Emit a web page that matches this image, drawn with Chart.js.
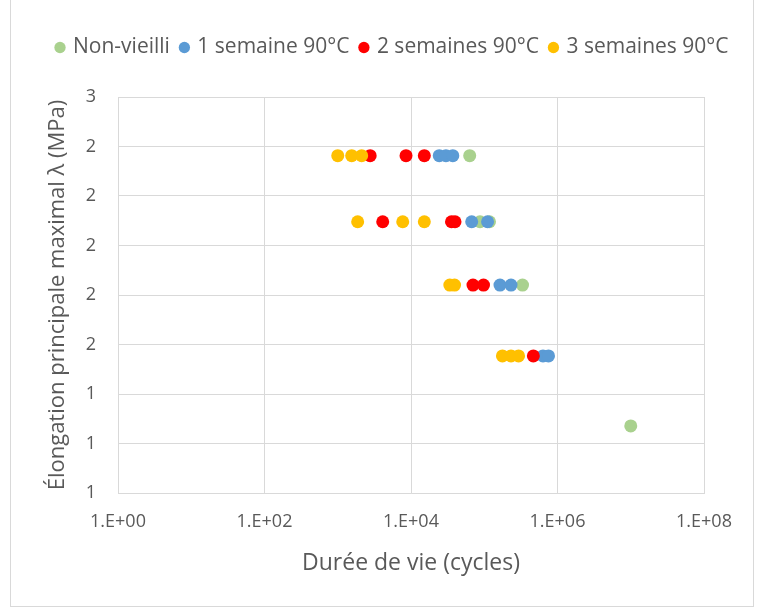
<!DOCTYPE html>
<html lang="fr">
<head>
<meta charset="utf-8">
<title>Durée de vie</title>
<script src="https://cdn.jsdelivr.net/npm/chart.js@4.4.1/dist/chart.umd.min.js"></script>
<style>
  html, body { margin: 0; padding: 0; background: #fff; }
  .frame {
    position: absolute; left: 10px; top: -1px;
    width: 742px; height: 606px;
    border: 1px solid #d9d9d9;
  }
  #chart { position: absolute; left: 0; top: 0; }
</style>
</head>
<body>
<div class="frame"></div>
<canvas id="chart" width="766" height="610"></canvas>
<script>
// cycles (x) and principal stretch (y) for each ageing condition
const nonVieilliCycles = [63300, 87500, 118000, 333000, 10000000];
const nonVieilliStretch = [2.363, 2.096, 2.096, 1.840, 1.271];

const semaine1Cycles = [24300, 30000, 37200, 67400, 111000, 164000, 232000, 634000, 754000];
const semaine1Stretch = [2.363, 2.363, 2.363, 2.096, 2.096, 1.840, 1.840, 1.554, 1.554];

const semaines2Cycles = [2770, 8550, 15200, 4110, 35700, 39900, 70200, 97700, 468000];
const semaines2Stretch = [2.363, 2.363, 2.363, 2.096, 2.096, 2.096, 1.840, 1.840, 1.554];

const semaines3Cycles = [1000, 1550, 2120, 1870, 7710, 15200, 33900, 39300, 177000, 232000, 294000];
const semaines3Stretch = [2.363, 2.363, 2.363, 2.096, 2.096, 2.096, 1.840, 1.840, 1.554, 1.554, 1.554];

const seriesNames = ['Non-vieilli', '1 semaine 90°C', '2 semaines 90°C', '3 semaines 90°C'];
const seriesColors = ['#A9D18E', '#5B9BD5', '#FF0000', '#FFC000'];

const xTickValues = [1, 1e2, 1e4, 1e6, 1e8];
const xTickLabels = ['1.E+00', '1.E+02', '1.E+04', '1.E+06', '1.E+08'];
const yTickValues = [1, 1.2, 1.4, 1.6, 1.8, 2, 2.2, 2.4, 2.6];
const yTickLabels = ['1', '1', '1', '2', '2', '2', '2', '2', '3'];

const textColor = '#595959';
const gridColor = '#d9d9d9';
const fontFamily = "'Open Sans', sans-serif";

const toPoints = (xs, ys) => xs.map((x, i) => ({x: x, y: ys[i]}));

const allSeries = [
    toPoints(nonVieilliCycles, nonVieilliStretch),
    toPoints(semaine1Cycles, semaine1Stretch),
    toPoints(semaines2Cycles, semaines2Stretch),
    toPoints(semaines3Cycles, semaines3Stretch)
];

// last series listed first so it is painted on top, legend is reversed back
const datasets = [];
for (let i = allSeries.length - 1; i >= 0; i--) {
    datasets.push({
        label: seriesNames[i],
        data: allSeries[i],
        backgroundColor: seriesColors[i],
        borderWidth: 0,
        pointRadius: 6.5,
        pointHoverRadius: 6.5
    });
}

// keep the legend band tall so the plot starts lower down
const legendBand = {
    id: 'legendBand',
    beforeLayout(chart) {
        const legend = chart.legend;
        if (!legend || legend._banded) return;
        const fit = legend.fit;
        legend.fit = function () {
            fit.call(this);
            this.height = 72;
        };
        legend._banded = true;
    }
};

new Chart(document.getElementById('chart'), {
    type: 'scatter',
    data: { datasets: datasets },
    plugins: [legendBand],
    options: {
        responsive: false,
        animation: false,
        devicePixelRatio: 1,
        layout: { padding: { top: 25, left: 20, right: 0, bottom: 0 } },
        plugins: {
            tooltip: { enabled: false },
            legend: {
                position: 'top',
                reverse: true,
                labels: {
                    usePointStyle: true,
                    pointStyle: 'circle',
                    boxWidth: 5,
                    boxHeight: 8,
                    padding: 12,
                    color: textColor,
                    font: { family: fontFamily, size: 21 }
                }
            }
        },
        scales: {
            x: {
                type: 'logarithmic',
                min: 1,
                max: 1e8,
                afterBuildTicks: (scale) => {
                    scale.ticks = xTickValues.map(v => ({value: v}));
                },
                afterFit: (scale) => { scale.height = 117; },
                ticks: {
                    color: textColor,
                    padding: 18,
                    maxRotation: 0,
                    font: { family: fontFamily, size: 18 },
                    callback: (value, index) => xTickLabels[index]
                },
                grid: { color: gridColor, lineWidth: 1, drawTicks: false },
                border: { color: gridColor, width: 1 },
                title: {
                    display: true,
                    text: 'Durée de vie (cycles)',
                    color: textColor,
                    font: { family: fontFamily, size: 23 },
                    padding: { top: 4, bottom: 33 }
                }
            },
            y: {
                type: 'linear',
                min: 1,
                max: 2.6,
                afterBuildTicks: (scale) => {
                    scale.ticks = yTickValues.map(v => ({value: v}));
                },
                afterFit: (scale) => { scale.width = 98; },
                ticks: {
                    color: textColor,
                    padding: 22,
                    font: { family: fontFamily, size: 18 },
                    callback: (value, index) => yTickLabels[index]
                },
                grid: { color: gridColor, lineWidth: 1, drawTicks: false },
                border: { color: gridColor, width: 1 },
                title: {
                    display: true,
                    text: 'Élongation principale maximal λ (MPa)',
                    color: textColor,
                    font: { family: fontFamily, size: 22 },
                    padding: { top: 25, bottom: 4 }
                }
            },
            // empty right axis, only reserves room beside the plot
            yRight: {
                position: 'right',
                display: true,
                min: 1,
                max: 2.6,
                afterFit: (scale) => { scale.width = 62; },
                ticks: { display: false },
                grid: { display: false, drawTicks: false },
                border: { display: false }
            }
        }
    }
});
</script>
</body>
</html>
